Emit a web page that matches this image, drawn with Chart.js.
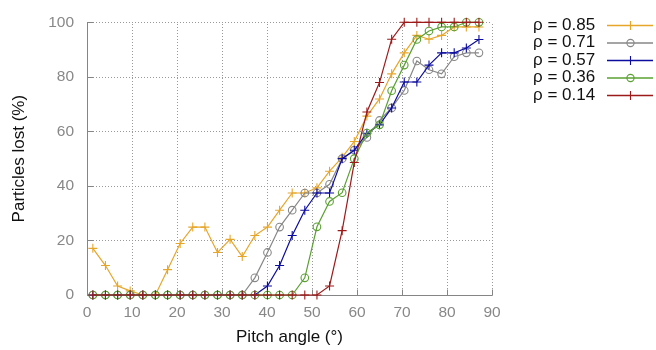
<!DOCTYPE html>
<html><head><meta charset="utf-8">
<script src="https://cdn.jsdelivr.net/npm/chart.js@4"></script>
<style>html,body{margin:0;padding:0;background:#fff}#wrap{width:656px;height:350px;position:relative}</style>
</head><body><div id="wrap"><canvas id="c" width="656" height="350"></canvas></div>
<script>
// Pitch angles (degrees) of the sampled points
const pitchAngles = [1.3,4.1,6.8,9.6,12.4,15.2,17.9,20.7,23.5,26.2,29.0,31.8,34.5,37.3,40.1,42.8,45.6,48.4,51.1,53.9,56.7,59.4,62.2,65.0,67.7,70.5,73.3,76.0,78.8,81.6,84.3,87.1];
// Particles lost (%) per series
const rho085 = [17.1,10.8,3.3,1.5,0,0,9.3,18.9,24.9,24.9,15.6,20.4,14.1,21.8,24.9,31.1,37.4,37.4,39.3,45.4,50.5,56.3,65.6,71.9,81.1,88.8,95.2,93.8,95.2,98.3,98.3,98.3];
const rho071 = [0,0,0,0,0,0,0,0,0,0,0,0,0,6.3,15.6,24.9,31.1,37.4,37.4,40.6,50.0,53.1,57.8,64.0,68.6,75.0,85.8,82.6,81.1,87.4,88.8,88.8];
const rho057 = [0,0,0,0,0,0,0,0,0,0,0,0,0,0,3.3,10.8,21.8,31.1,37.4,37.4,50.0,53.1,59.3,62.4,68.6,78.1,78.1,84.3,88.8,88.8,90.6,93.7];
const rho036 = [0,0,0,0,0,0,0,0,0,0,0,0,0,0,0,0,0,6.3,25.0,34.3,37.5,50.0,59.4,62.4,74.9,84.3,93.7,96.8,98.3,98.3,100,100];
const rho014 = [0,0,0,0,0,0,0,0,0,0,0,0,0,0,0,0,0,0,0,3.3,23.6,48.6,67.1,77.9,93.8,100,100,100,100,100,100,100];
const seriesLabels = ['ρ = 0.85','ρ = 0.71','ρ = 0.57','ρ = 0.36','ρ = 0.14'];
const xTickValues = [0,10,20,30,40,50,60,70,80,90];
const yTickValues = [0,20,40,60,80,100];

const seriesValues = [rho085, rho071, rho057, rho036, rho014];
const colors = ['#e6a62a','#878787','#0c0c9e','#5aa032','#9c1a1a'];
const styles = ['cross','circle','cross','circle','cross'];

const datasets = seriesValues.map((vals, k) => ({
  label: seriesLabels[k],
  data: vals.map((v, i) => ({x: pitchAngles[i], y: v})),
  borderColor: colors[k],
  backgroundColor: 'rgba(0,0,0,0)',
  borderWidth: 1.2,
  pointStyle: styles[k],
  pointRadius: styles[k] === 'cross' ? 4.5 : 3.8,
  pointBorderWidth: 1.1,
  pointBorderColor: colors[k],
  pointBackgroundColor: 'rgba(0,0,0,0)',
  tension: 0,
  clip: false,
  order: 5 - k
}));

const FONT = '"Liberation Sans", Arial, Helvetica, sans-serif';

const extras = {
  id: 'extras',
  beforeDatasetsDraw(chart) {
    const ctx = chart.ctx;
    const xs = chart.scales.x, ys = chart.scales.y;
    const a = chart.chartArea;
    ctx.save();
    ctx.strokeStyle = '#999';
    ctx.lineWidth = 1;
    ctx.setLineDash([1, 2]);
    xTickValues.forEach(v => {
      if (v === 0) return;
      const px = Math.round(xs.getPixelForValue(v)) + 0.5;
      ctx.beginPath(); ctx.moveTo(px, a.bottom); ctx.lineTo(px, a.top); ctx.stroke();
    });
    yTickValues.forEach(v => {
      if (v === 0) return;
      const py = Math.round(ys.getPixelForValue(v)) + 0.5;
      ctx.beginPath(); ctx.moveTo(a.left, py); ctx.lineTo(a.right, py); ctx.stroke();
    });
    ctx.setLineDash([]);
    ctx.strokeStyle = '#858585';
    // solid axes (left and bottom)
    const l = Math.round(a.left) + 0.5, b = Math.round(a.bottom) + 0.5;
    ctx.beginPath(); ctx.moveTo(l, a.top); ctx.lineTo(l, b); ctx.lineTo(a.right + 0.5, b); ctx.stroke();
    xTickValues.forEach(v => {
      const px = Math.round(xs.getPixelForValue(v)) + 0.5;
      ctx.beginPath(); ctx.moveTo(px, b); ctx.lineTo(px, b - 6); ctx.stroke();
    });
    yTickValues.forEach(v => {
      const py = Math.round(ys.getPixelForValue(v)) + 0.5;
      ctx.beginPath(); ctx.moveTo(l, py); ctx.lineTo(l + 6, py); ctx.stroke();
    });
    ctx.restore();
  },
  afterDatasetsDraw(chart) {
    const ctx = chart.ctx;
    ctx.save();
    // legend (gnuplot style: text then sample)
    ctx.font = '17px ' + FONT;
    ctx.textBaseline = 'middle';
    ctx.textAlign = 'left';
    chart.data.datasets.forEach((ds, k) => {
      const y = 25 + 17.5 * k;
      ctx.fillStyle = '#111';
      ctx.fillText(ds.label, 533, y);
      ctx.strokeStyle = ds.borderColor;
      ctx.lineWidth = 1.4;
      ctx.beginPath(); ctx.moveTo(607, y + 0.5); ctx.lineTo(653, y + 0.5); ctx.stroke();
      ctx.lineWidth = 1.1;
      ctx.beginPath();
      if (ds.pointStyle === 'cross') {
        ctx.moveTo(630.5, y - 4); ctx.lineTo(630.5, y + 5);
      } else {
        ctx.arc(630.5, y + 0.5, 3.6, 0, Math.PI * 2);
      }
      ctx.stroke();
    });
    ctx.restore();
  }
};

new Chart(document.getElementById('c'), {
  type: 'line',
  data: { datasets },
  options: {
    responsive: false,
    animation: false,
    devicePixelRatio: 1,
    layout: { padding: { left: 0, top: 15, right: 164, bottom: 0 } },
    plugins: { legend: { display: false }, tooltip: { enabled: false } },
    scales: {
      x: {
        type: 'linear', min: 0, max: 90,
        afterBuildTicks: s => { s.ticks = xTickValues.map(v => ({value: v})); },
        afterFit: s => { s.height = 55; },
        ticks: { color: '#888', font: { size: 15.5, family: FONT }, padding: 8, maxRotation: 0 },
        grid: { display: false, drawTicks: false },
        border: { display: false },
        title: { display: true, text: 'Pitch angle (°)', color: '#111', font: { size: 17, family: FONT }, padding: { top: 0, bottom: 2 } }
      },
      y: {
        type: 'linear', min: 0, max: 100,
        afterBuildTicks: s => { s.ticks = yTickValues.map(v => ({value: v})); },
        afterFit: s => { s.width = 87; },
        ticks: { color: '#888', font: { size: 15.5, family: FONT }, padding: 13 },
        grid: { display: false, drawTicks: false },
        border: { display: false },
        title: { display: true, text: 'Particles lost (%)', color: '#111', font: { size: 17, family: FONT }, padding: { top: 9, bottom: 0 } }
      }
    }
  },
  plugins: [extras]
});
</script>
</body></html>
